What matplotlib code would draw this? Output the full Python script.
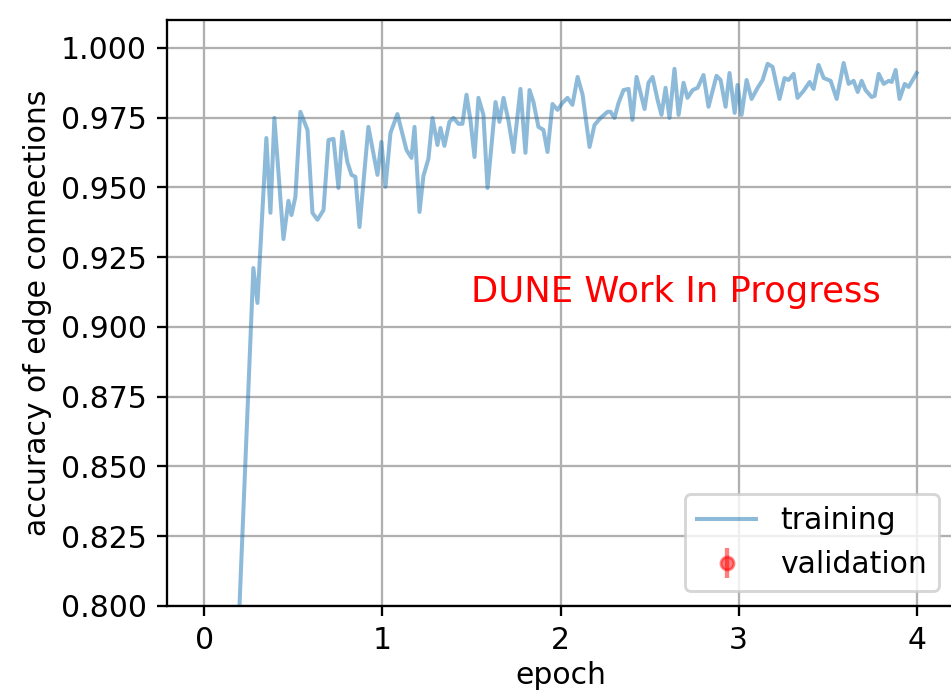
import matplotlib
matplotlib.use("Agg")
import matplotlib.pyplot as plt

# training accuracy (epoch, accuracy)
train_epoch = [0.180, 0.275, 0.298, 0.348, 0.371, 0.393, 0.444, 0.472, 0.489, 0.511,
               0.539, 0.579, 0.607, 0.635, 0.669, 0.697, 0.725, 0.753, 0.775, 0.803,
               0.826, 0.848, 0.871, 0.921, 0.972, 0.994, 1.017, 1.045, 1.084, 1.135,
               1.163, 1.180, 1.208, 1.230, 1.258, 1.281, 1.309, 1.326, 1.348, 1.376,
               1.399, 1.427, 1.449, 1.472, 1.494, 1.517, 1.539, 1.567, 1.590, 1.635,
               1.657, 1.680, 1.708, 1.736, 1.775, 1.803, 1.826, 1.848, 1.876, 1.904,
               1.927, 1.955, 1.983, 2.011, 2.039, 2.067, 2.096, 2.124, 2.163, 2.191,
               2.225, 2.264, 2.281, 2.303, 2.326, 2.354, 2.382, 2.404, 2.427, 2.449,
               2.472, 2.494, 2.517, 2.545, 2.567, 2.590, 2.612, 2.640, 2.663, 2.691,
               2.713, 2.742, 2.770, 2.803, 2.831, 2.876, 2.899, 2.927, 2.949, 2.978,
               2.994, 3.017, 3.045, 3.073, 3.107, 3.135, 3.163, 3.191, 3.230, 3.258,
               3.281, 3.309, 3.331, 3.365, 3.399, 3.421, 3.449, 3.478, 3.517, 3.551,
               3.590, 3.618, 3.646, 3.669, 3.691, 3.713, 3.747, 3.764, 3.787, 3.815,
               3.843, 3.860, 3.882, 3.904, 3.933, 3.955, 4.000]
train_acc = [0.7735, 0.9211, 0.9086, 0.9677, 0.9409, 0.9749, 0.9315, 0.9452, 0.9401, 0.9466,
             0.9771, 0.9706, 0.9409, 0.9384, 0.9419, 0.9670, 0.9674, 0.9498, 0.9699, 0.9591,
             0.9545, 0.9538, 0.9358, 0.9717, 0.9545, 0.9663, 0.9502, 0.9695, 0.9763, 0.9634,
             0.9606, 0.9717, 0.9412, 0.9541, 0.9602, 0.9749, 0.9652, 0.9713, 0.9649, 0.9735,
             0.9749, 0.9728, 0.9728, 0.9832, 0.9742, 0.9609, 0.9821, 0.9760, 0.9498, 0.9806,
             0.9735, 0.9821, 0.9738, 0.9627, 0.9853, 0.9624, 0.9849, 0.9806, 0.9717, 0.9706,
             0.9627, 0.9799, 0.9778, 0.9803, 0.9821, 0.9796, 0.9896, 0.9832, 0.9645, 0.9724,
             0.9749, 0.9771, 0.9771, 0.9749, 0.9803, 0.9849, 0.9853, 0.9742, 0.9896, 0.9839,
             0.9781, 0.9875, 0.9896, 0.9814, 0.9760, 0.9857, 0.9749, 0.9925, 0.9760, 0.9875,
             0.9821, 0.9849, 0.9857, 0.9903, 0.9789, 0.9900, 0.9885, 0.9789, 0.9910, 0.9767,
             0.9867, 0.9760, 0.9885, 0.9817, 0.9857, 0.9885, 0.9943, 0.9932, 0.9817, 0.9892,
             0.9885, 0.9907, 0.9821, 0.9846, 0.9878, 0.9853, 0.9939, 0.9892, 0.9882, 0.9817,
             0.9946, 0.9871, 0.9882, 0.9842, 0.9882, 0.9849, 0.9824, 0.9828, 0.9907, 0.9871,
             0.9882, 0.9878, 0.9921, 0.9817, 0.9871, 0.9860, 0.9910]

# no validation point falls inside the visible range
val_epoch = []
val_acc = []
val_err = []

x_ticks = [0, 1, 2, 3, 4]
y_ticks = [0.800, 0.825, 0.850, 0.875, 0.900, 0.925, 0.950, 0.975, 1.000]

plt.rcParams["font.size"] = 10.4

DPI = 207
fig = plt.figure(figsize=(951 / DPI, 692 / DPI), dpi=DPI)
ax = fig.add_axes([0.1756, 0.1243, 0.8276, 0.8468])

ax.plot(train_epoch, train_acc, color="tab:blue", alpha=0.5, lw=1.4, label="training")
ax.errorbar(val_epoch, val_acc, yerr=val_err, fmt="o", color="red", alpha=0.5,
            markersize=4.5, label="validation")

ax.text(1.5, 0.909, "DUNE Work In Progress", color="red", fontsize=12.3)

ax.set_xlim(-0.21, 4.21)
ax.set_ylim(0.8, 1.01)
ax.set_xticks(x_ticks)
ax.set_yticks(y_ticks)
ax.set_xlabel("epoch", labelpad=2)
ax.set_ylabel("accuracy of edge connections", labelpad=3)
ax.grid(True)
ax.legend(loc="lower right")

fig.savefig("out.png", dpi=DPI)
